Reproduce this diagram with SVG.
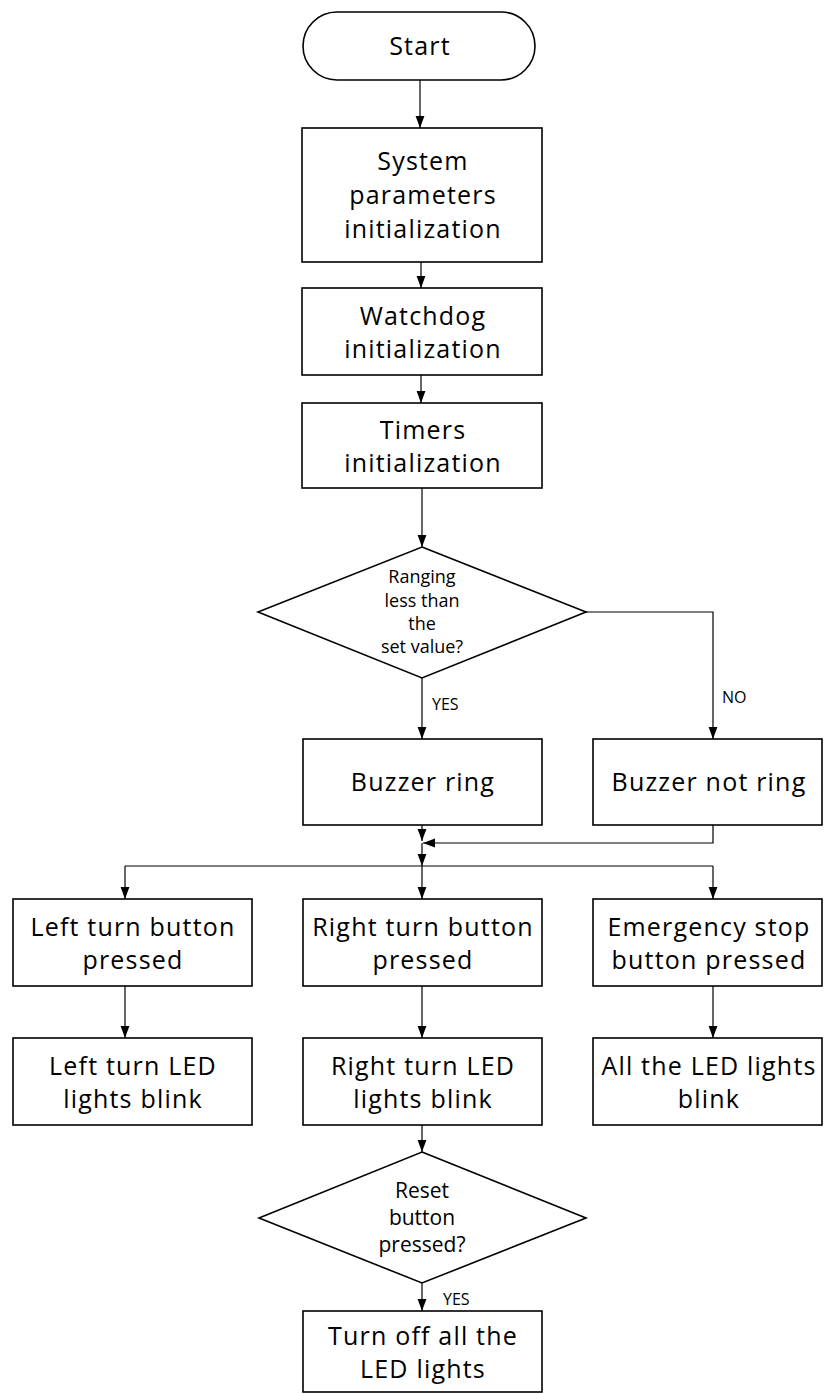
<svg xmlns="http://www.w3.org/2000/svg" width="824" height="1394" viewBox="0 0 824 1394">
<defs>
<marker id="arr" markerUnits="userSpaceOnUse" markerWidth="12" markerHeight="10" refX="12" refY="5" orient="auto">
<path d="M0,0.6 L12,5 L0,9.4 z" fill="#000"/>
</marker>
<style>
.box{fill:#fff;stroke:#000;stroke-width:1.6}
.t{font-family:"Open Sans","Noto Sans",sans-serif;font-size:25px;letter-spacing:1.2px;fill:#000;text-anchor:middle}
.d{font-family:"Open Sans","Noto Sans",sans-serif;font-size:18px;fill:#000;text-anchor:middle}
.r{font-family:"Open Sans","Noto Sans",sans-serif;font-size:21px;fill:#000;text-anchor:middle}
.s{font-family:"Open Sans","Noto Sans",sans-serif;font-size:16px;fill:#000}
.c{fill:none;stroke:#000;stroke-width:1.2;marker-end:url(#arr)}
.cn{fill:none;stroke:#000;stroke-width:1.2}
</style>
</defs>
<rect width="824" height="1394" fill="#fff"/>
<g id="connectors">
<path class="c" d="M420,80 V128"/>
<path class="c" d="M421,262 V288"/>
<path class="c" d="M421,375 V403"/>
<path class="c" d="M422,488 V547"/>
<path class="c" d="M586,612 H713 V739"/>
<path class="c" d="M422,678 V739"/>
<path class="c" d="M422,825 V841"/>
<path class="c" d="M713,825 V843 H423"/>
<path class="c" d="M422,843 V866"/>
<path class="cn" d="M125,866 H713"/>
<path class="c" d="M125,866 V899"/>
<path class="c" d="M422,866 V899"/>
<path class="c" d="M713,866 V899"/>
<path class="c" d="M125,986 V1038"/>
<path class="c" d="M422,986 V1038"/>
<path class="c" d="M713,986 V1038"/>
<path class="c" d="M422,1125 V1152"/>
<path class="c" d="M422,1283 V1311"/>
<text class="s" x="432" y="710">YES</text>
<text class="s" x="722" y="703">NO</text>
<text class="s" x="443" y="1305">YES</text>
</g>
<g id="start">
<rect class="box" x="303" y="12" width="232" height="68" rx="34" ry="34"/>
<text class="t" x="420" y="55">Start</text>
</g>
<g id="sysinit">
<rect class="box" x="302" y="128" width="240" height="134"/>
<text class="t" x="423" y="170">System</text>
<text class="t" x="423" y="204">parameters</text>
<text class="t" x="423" y="238">initialization</text>
</g>
<g id="watchdog">
<rect class="box" x="302" y="288" width="240" height="87"/>
<text class="t" x="423" y="325">Watchdog</text>
<text class="t" x="423" y="358">initialization</text>
</g>
<g id="timers">
<rect class="box" x="302" y="403" width="240" height="85"/>
<text class="t" x="423" y="439">Timers</text>
<text class="t" x="423" y="472">initialization</text>
</g>
<g id="ranging">
<polygon class="box" points="422,547 586,612 422,678 258,612"/>
<text class="d" x="422" y="583">Ranging</text>
<text class="d" x="422" y="607">less than</text>
<text class="d" x="422" y="630">the</text>
<text class="d" x="422" y="653">set value?</text>
</g>
<g id="buzzer-ring">
<rect class="box" x="303" y="739" width="239" height="86"/>
<text class="t" x="423" y="791">Buzzer ring</text>
</g>
<g id="buzzer-not-ring">
<rect class="box" x="593" y="739" width="229" height="86"/>
<text class="t" x="709" y="791">Buzzer not ring</text>
</g>
<g id="left-pressed">
<rect class="box" x="13" y="899" width="239" height="87"/>
<text class="t" x="133" y="936">Left turn button</text>
<text class="t" x="133" y="969">pressed</text>
</g>
<g id="right-pressed">
<rect class="box" x="303" y="899" width="239" height="87"/>
<text class="t" x="423" y="936">Right turn button</text>
<text class="t" x="423" y="969">pressed</text>
</g>
<g id="emergency-pressed">
<rect class="box" x="593" y="899" width="229" height="87"/>
<text class="t" x="709" y="936">Emergency stop</text>
<text class="t" x="709" y="969">button pressed</text>
</g>
<g id="left-blink">
<rect class="box" x="13" y="1038" width="239" height="87"/>
<text class="t" x="133" y="1075">Left turn LED</text>
<text class="t" x="133" y="1108">lights blink</text>
</g>
<g id="right-blink">
<rect class="box" x="303" y="1038" width="239" height="87"/>
<text class="t" x="423" y="1075">Right turn LED</text>
<text class="t" x="423" y="1108">lights blink</text>
</g>
<g id="all-blink">
<rect class="box" x="593" y="1038" width="229" height="87"/>
<text class="t" x="709" y="1075">All the LED lights</text>
<text class="t" x="709" y="1108">blink</text>
</g>
<g id="reset">
<polygon class="box" points="422,1152 586,1218 422,1283 259,1218"/>
<text class="r" x="422" y="1198">Reset</text>
<text class="r" x="422" y="1225">button</text>
<text class="r" x="422" y="1252">pressed?</text>
</g>
<g id="turn-off">
<rect class="box" x="303" y="1311" width="239" height="81"/>
<text class="t" x="423" y="1345">Turn off all the</text>
<text class="t" x="423" y="1378">LED lights</text>
</g>
</svg>
